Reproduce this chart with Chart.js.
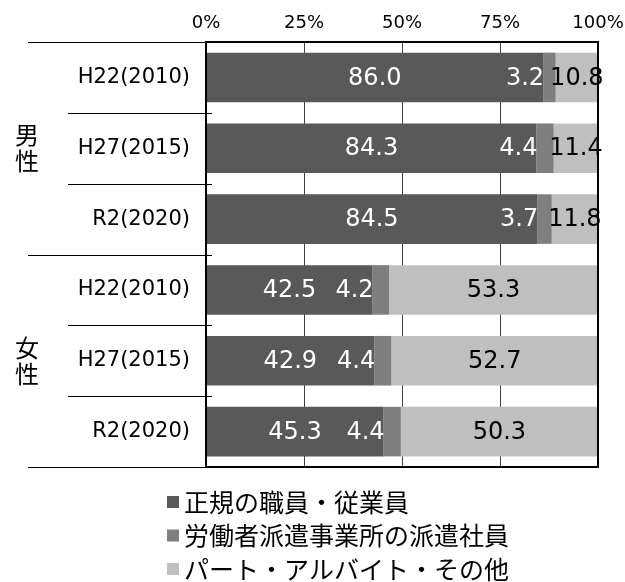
<!DOCTYPE html>
<html>
<head>
<meta charset="utf-8">
<script src="https://cdn.jsdelivr.net/npm/chart.js@4.4.1/dist/chart.umd.min.js"></script>
<style>
  html, body { margin: 0; padding: 0; background: #fff; }
  #wrap { width: 625px; height: 582px; }
</style>
</head>
<body>
<div id="wrap"><canvas id="chart"></canvas></div>
<script>
// Data
const categories = ['H22(2010)', 'H27(2015)', 'R2(2020)', 'H22(2010)', 'H27(2015)', 'R2(2020)'];
const groupLabels = ['男性', '女性'];
const groupSizes = [3, 3];
const seriesNames = ['正規の職員・従業員', '労働者派遣事業所の派遣社員', 'パート・アルバイト・その他'];
const regular = [86.0, 84.3, 84.5, 42.5, 42.9, 45.3];
const dispatched = [3.2, 4.4, 3.7, 4.2, 4.4, 4.4];
const partTime = [10.8, 11.4, 11.8, 53.3, 52.7, 50.3];
const xTicks = [0, 25, 50, 75, 100];

const FONT = "'DejaVu Sans', 'Noto Sans CJK JP', sans-serif";
const JP_FONT = "'Noto Sans CJK JP', sans-serif";
const colors = ['#595959', '#7f7f7f', '#bfbfbf'];
const labelColors = ['#ffffff', '#ffffff', '#000000'];

// Draws frame, left-side separators, group labels, value labels and legend
const decorations = {
    id: 'decorations',
    afterDraw(chart) {
        const ctx = chart.ctx;
        const area = chart.chartArea;
        const yScale = chart.scales.y;
        ctx.save();

        // horizontal separators in the label column
        ctx.strokeStyle = '#000';
        ctx.lineWidth = 1;
        let boundaries = [0];
        groupSizes.reduce((acc, n) => { boundaries.push(acc + n); return acc + n; }, 0);
        for (let b = 0; b <= categories.length; b++) {
            const y = Math.round(yScale.getPixelForValue(b - 0.5)) + 0.5;
            const isGroup = boundaries.includes(b);
            const x0 = isGroup ? 28 : 68;
            const x1 = (b === 0 || b === categories.length) ? area.left : area.left + 6;
            ctx.beginPath();
            ctx.moveTo(x0, y);
            ctx.lineTo(x1, y);
            ctx.stroke();
        }

        // plot frame
        ctx.lineWidth = 2;
        ctx.strokeRect(area.left, area.top, area.right - area.left, area.bottom - area.top);

        // group labels, one character per line
        ctx.fillStyle = '#000';
        ctx.font = '24px ' + JP_FONT;
        ctx.textAlign = 'center';
        ctx.textBaseline = 'middle';
        let start = 0;
        groupLabels.forEach((g, gi) => {
            const yTop = yScale.getPixelForValue(start - 0.5);
            const yBot = yScale.getPixelForValue(start + groupSizes[gi] - 0.5);
            const mid = (yTop + yBot) / 2;
            const chars = Array.from(g);
            chars.forEach((ch, k) => {
                ctx.fillText(ch, 27, mid + (k - (chars.length - 1) / 2) * 26);
            });
            start += groupSizes[gi];
        });

        // value labels
        ctx.font = '24px ' + FONT;
        chart.data.datasets.forEach((ds, di) => {
            const meta = chart.getDatasetMeta(di);
            meta.data.forEach((bar, j) => {
                const txt = ds.data[j].toFixed(1);
                ctx.fillStyle = labelColors[di];
                if (di === 1) {
                    ctx.textAlign = 'right';
                    ctx.fillText(txt, bar.base + 1, bar.y + 1);
                } else {
                    ctx.textAlign = 'center';
                    ctx.fillText(txt, (bar.base + bar.x) / 2, bar.y + 1);
                }
            });
        });

        // legend, stacked vertically
        ctx.font = '25px ' + JP_FONT;
        ctx.textAlign = 'left';
        chart.data.datasets.forEach((ds, di) => {
            const cy = 502 + di * 33.5;
            ctx.fillStyle = ds.backgroundColor;
            ctx.fillRect(167, cy - 6, 12, 12);
            ctx.fillStyle = '#000';
            ctx.fillText(ds.label, 184, cy);
        });

        ctx.restore();
    }
};

const ctx = document.getElementById('chart').getContext('2d');
new Chart(ctx, {
    type: 'bar',
    data: {
        labels: categories,
        datasets: [regular, dispatched, partTime].map((vals, i) => ({
            label: seriesNames[i],
            data: vals,
            backgroundColor: colors[i],
            borderWidth: 0,
            categoryPercentage: 1,
            barPercentage: 0.7
        }))
    },
    options: {
        indexAxis: 'y',
        responsive: true,
        maintainAspectRatio: false,
        animation: false,
        layout: { padding: { left: 0, right: 27, top: 0, bottom: 115 } },
        scales: {
            x: {
                position: 'top',
                stacked: true,
                min: 0,
                max: 100,
                afterBuildTicks: axis => { axis.ticks = xTicks.map(v => ({ value: v })); },
                afterFit: axis => {
                    axis.height = 42;
                    axis.paddingLeft = 0;
                    axis.paddingRight = 0;
                },
                grid: { color: '#404040', lineWidth: 1, drawTicks: false },
                border: { display: false },
                ticks: {
                    padding: 8,
                    color: '#000',
                    font: { family: FONT, size: 18 },
                    callback: v => v + '%'
                }
            },
            y: {
                stacked: true,
                afterFit: axis => { axis.width = 206; },
                grid: { display: false, drawTicks: false },
                border: { display: false },
                ticks: {
                    padding: 16,
                    color: '#000',
                    font: { family: FONT, size: 21 }
                }
            }
        },
        plugins: {
            legend: { display: false },
            tooltip: { enabled: false }
        }
    },
    plugins: [decorations]
});
</script>
</body>
</html>
